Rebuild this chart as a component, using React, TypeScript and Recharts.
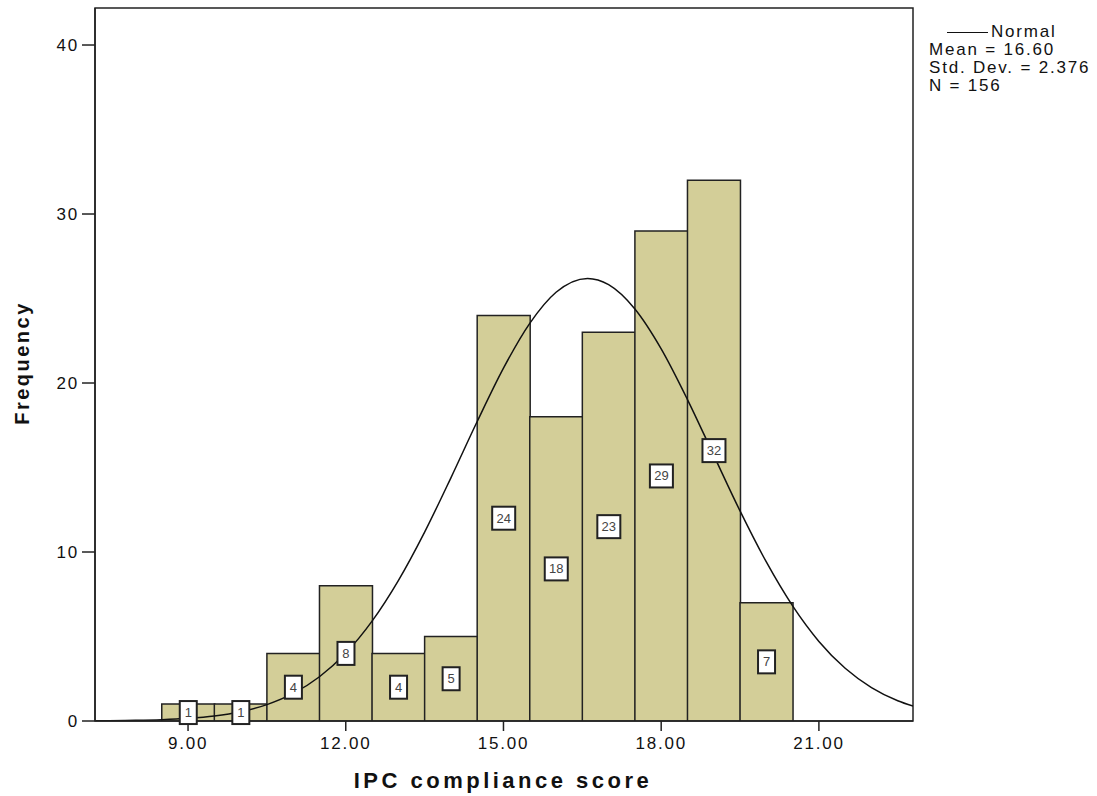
import React from "react";
import {
  ComposedChart,
  Bar,
  Line,
  XAxis,
  YAxis,
  LabelList,
  ReferenceArea,
} from "recharts";

// histogram bins (score centre) and their counts
const scores = [9, 10, 11, 12, 13, 14, 15, 16, 17, 18, 19, 20];
const counts = [1, 1, 4, 8, 4, 5, 24, 18, 23, 29, 32, 7];

// normal curve
const curveX = [
  7.23, 7.5, 8, 8.5, 9, 9.5, 10, 10.5, 11, 11.5, 12, 12.5, 13, 13.5, 14, 14.5,
  15, 15.5, 16, 16.6, 17, 17.5, 18, 18.5, 19, 19.5, 20, 20.5, 21, 21.5, 22,
  22.5, 22.79,
];
const curveY = [
  0.01, 0.02, 0.04, 0.08, 0.16, 0.3, 0.55, 0.97, 1.63, 2.62, 4.02, 5.91, 8.31,
  11.18, 14.39, 17.72, 20.88, 23.53, 25.37, 26.19, 25.82, 24.38, 22.02, 19.02,
  15.72, 12.43, 9.41, 6.81, 4.71, 3.12, 1.98, 1.2, 0.88,
];

const xTicks = [9, 12, 15, 18, 21];
const yTicks = [0, 10, 20, 30, 40];
const legendLines = ["Mean = 16.60", "Std. Dev. = 2.376", "N = 156"];

const X_MIN = 7.23;
const X_MAX = 22.79;
const Y_MAX = 42.19;

const barData = scores.map((x, i) => ({ x, count: counts[i] }));
const curveData = curveX.map((x, i) => ({ cx: x, normal: curveY[i] }));

const FONT = "Arial, 'Liberation Sans', sans-serif";

const CountBox = (props: any) => {
  const { x, y, width, height, value } = props;
  if (value == null) return null;
  const cx = x + width / 2;
  const cy = y + height / 2;
  const w = String(value).length > 1 ? 23 : 17;
  const h = 23;
  return (
    <g>
      <rect
        x={cx - w / 2}
        y={cy - h / 2}
        width={w}
        height={h}
        fill="#fff"
        stroke="#222"
        strokeWidth={2}
      />
      <text
        x={cx}
        y={cy + 4.5}
        textAnchor="middle"
        fontSize={13}
        fontFamily={FONT}
        fill="#444"
      >
        {value}
      </text>
    </g>
  );
};

export default function App() {
  const tickStyle = { fontSize: 17, fill: "#111", fontFamily: FONT, letterSpacing: 1.8 };
  return (
    <div style={{ position: "relative", width: 1097, height: 796, fontFamily: FONT }}>
      <style>{`body{margin:0}`}</style>
      <ComposedChart
        width={1097}
        height={796}
        data={barData}
        barCategoryGap={0}
        margin={{ top: 8, right: 184, bottom: 45, left: 30 }}
      >
        <XAxis
          dataKey="x"
          type="number"
          domain={[X_MIN, X_MAX]}
          allowDataOverflow
          ticks={xTicks}
          tickFormatter={(v: number) => v.toFixed(2)}
          tickSize={10}
          tickMargin={6}
          height={30}
          tick={tickStyle}
          stroke="#222"
          strokeWidth={1.5}
        />
        <XAxis
          xAxisId="curve"
          dataKey="cx"
          type="number"
          domain={[X_MIN, X_MAX]}
          allowDataOverflow
          hide
        />
        <YAxis
          type="number"
          domain={[0, Y_MAX]}
          allowDataOverflow
          ticks={yTicks}
          tickSize={13}
          tickMargin={3}
          width={65}
          tick={tickStyle}
          stroke="#222"
          strokeWidth={1.5}
        />
        <ReferenceArea
          x1={X_MIN}
          x2={X_MAX}
          y1={0}
          y2={Y_MAX}
          fill="none"
          stroke="#222"
          strokeWidth={1.5}
          ifOverflow="visible"
        />
        <Bar
          dataKey="count"
          fill="#D3CE98"
          stroke="#222"
          strokeWidth={1.5}
          isAnimationActive={false}
        >
          <LabelList dataKey="count" content={CountBox} />
        </Bar>
        <Line
          xAxisId="curve"
          data={curveData}
          dataKey="normal"
          type="monotone"
          stroke="#111"
          strokeWidth={1.5}
          dot={false}
          activeDot={false}
          isAnimationActive={false}
        />
      </ComposedChart>

      <div
        style={{
          position: "absolute",
          left: 22,
          top: 363,
          transform: "translate(-50%, -50%) rotate(-90deg)",
          fontSize: 20,
          fontWeight: "bold",
          letterSpacing: 2.5,
          whiteSpace: "nowrap",
          color: "#111",
        }}
      >
        Frequency
      </div>
      <div
        style={{
          position: "absolute",
          left: 503,
          top: 770,
          transform: "translateX(-50%)",
          fontSize: 22,
          lineHeight: 1,
          fontWeight: "bold",
          letterSpacing: 3.5,
          whiteSpace: "nowrap",
          color: "#111",
        }}
      >
        IPC compliance score
      </div>

      <div
        style={{
          position: "absolute",
          left: 929,
          top: 23,
          fontSize: 17,
          lineHeight: "18px",
          letterSpacing: 1.8,
          color: "#111",
          whiteSpace: "nowrap",
        }}
      >
        <div style={{ display: "flex", alignItems: "center" }}>
          <span
            style={{
              display: "inline-block",
              width: 41,
              height: 0,
              borderTop: "1.5px solid #111",
              marginLeft: 18,
              marginRight: 3,
            }}
          />
          <span>Normal</span>
        </div>
        {legendLines.map((t) => (
          <div key={t}>{t}</div>
        ))}
      </div>
    </div>
  );
}
